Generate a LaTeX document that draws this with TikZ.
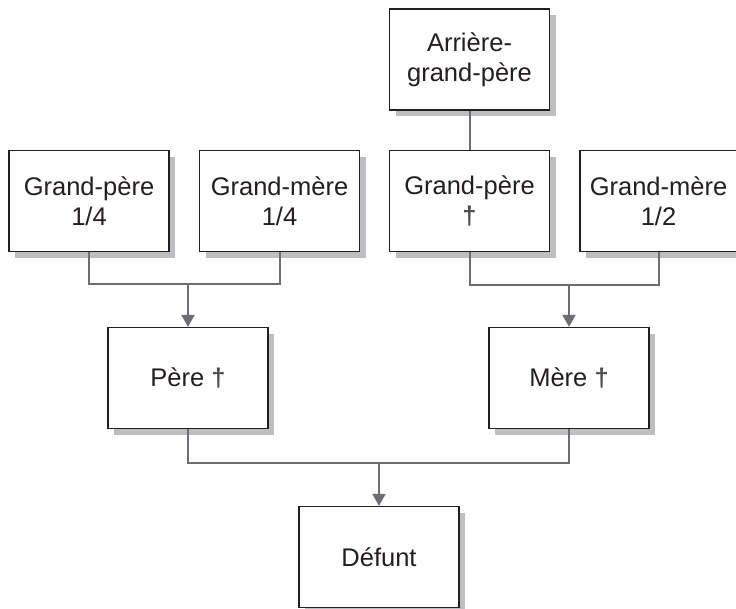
\documentclass[tikz,border=0pt]{standalone}
\usepackage{fontspec}
\setmainfont{Liberation Sans}
\usetikzlibrary{arrows.meta,shadows}
\definecolor{conn}{HTML}{6D6E71}
\definecolor{shad}{HTML}{BCBEC0}
\definecolor{txt}{HTML}{231F20}
\newcommand{\dg}{{\bfseries\color{txt!80}†}}
\begin{document}
\begin{tikzpicture}[x=1pt,y=-1pt,
  box/.style={draw=txt, line width=1.2pt, fill=white, minimum width=160pt,
    minimum height=101pt, align=center, inner sep=0pt,
    font=\fontsize{25.5}{30}\selectfont, text=txt,
    drop shadow={shadow xshift=6pt, shadow yshift=-6pt, fill=shad, opacity=1}},
  link/.style={draw=conn, line width=2pt},
  arr/.style={link, -{Triangle[width=13pt,length=12pt]}}]
\useasboundingbox (0,0) rectangle (736,608);
\node[box] (agp) at (469.5,59.5) {Arrière-\\grand-père};
\node[box] (gp1) at (89,201) {Grand-père\\1/4};
\node[box] (gm1) at (279.5,201) {Grand-mère\\1/4};
\node[box] (gp2) at (469.5,201) {Grand-père\\\dg};
\node[box, minimum width=157pt] (gm2) at (658.5,201) {Grand-mère\\1/2};
\node[box] (pere) at (188,378) {Père \dg};
\node[box] (mere) at (569,378) {Mère \dg};
\node[box] (def) at (379,557) {Défunt};
\coordinate (j1) at (188,284);
\coordinate (j2) at (569,285);
\coordinate (j3) at (379,463);
\draw[link] (agp.south) -- (gp2.north);
\draw[link] (gp1.south) |- (j1) -| (gm1.south);
\draw[arr] (j1) -- (j1 |- pere.north);
\draw[link] (gp2.south) |- (j2) -| (gm2.south);
\draw[arr] (j2) -- (j2 |- mere.north);
\draw[link] (pere.south) |- (j3) -| (mere.south);
\draw[arr] (j3) -- (j3 |- def.north);
\end{tikzpicture}
\end{document}
